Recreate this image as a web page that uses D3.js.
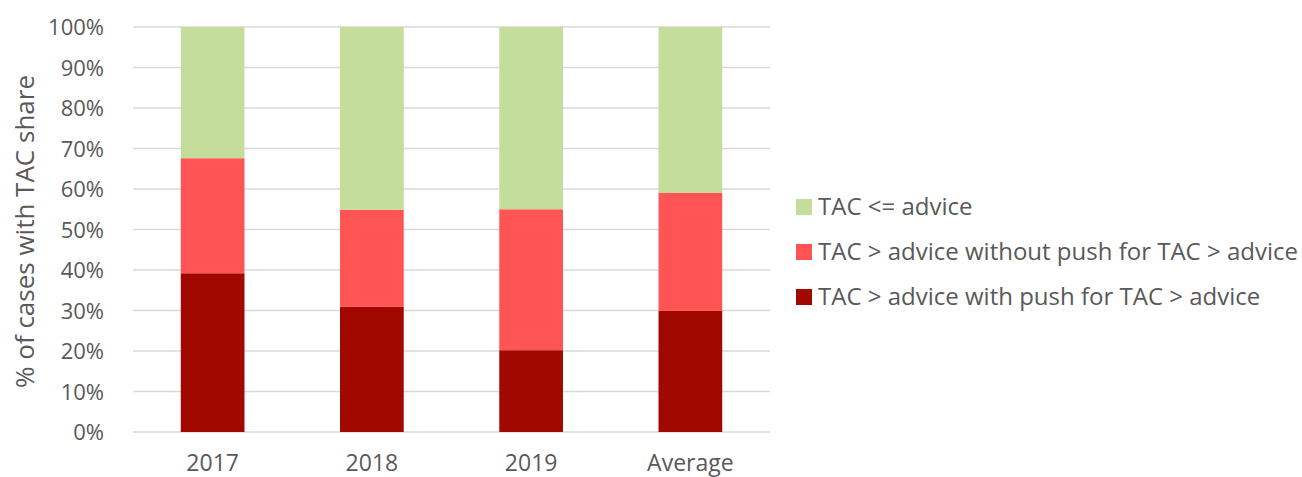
<!DOCTYPE html>
<html><head><meta charset="utf-8">
<script src="https://cdn.jsdelivr.net/npm/d3@7"></script>
<style>body{margin:0;background:#fff}svg{display:block}text{font-family:"Open Sans",sans-serif;fill:#595959}</style>
</head><body><svg id="c" width="1302" height="477"></svg>
<script>
const categories = ["2017","2018","2019","Average"];
const seriesNames = ["TAC > advice with push for TAC > advice","TAC > advice without push for TAC > advice","TAC <= advice"];
const withPush = [39.2, 30.9, 20.2, 29.9];
const withoutPush = [28.4, 24.0, 34.8, 29.2];
const lessEq = [32.4, 45.1, 45.0, 40.9];
const yTicks = [0,10,20,30,40,50,60,70,80,90,100];
const colors = ["#A00800","#FF5454","#C4DD9A"];

const svg = d3.select("#c");
const m = {l:133, r:770, t:27, b:432};
const x = d3.scaleBand().domain(categories).range([m.l, m.r]).paddingInner(0.6).paddingOuter(0.3);
const y = d3.scaleLinear().domain([0,100]).range([m.b, m.t]);

const rows = categories.map((c,i)=>({cat:c, a:withPush[i], b:withoutPush[i], c:lessEq[i]}));
const stack = d3.stack().keys(["a","b","c"])(rows);

svg.append("g").selectAll("line").data(yTicks).join("line")
  .attr("x1", m.l).attr("x2", m.r).attr("y1", d=>y(d)).attr("y2", d=>y(d))
  .attr("stroke", "#d9d9d9").attr("stroke-width", 1.5);

svg.append("g").selectAll("g").data(stack).join("g").attr("fill",(d,i)=>colors[i])
  .selectAll("rect").data(d=>d).join("rect")
  .attr("x", d=>x(d.data.cat)).attr("width", x.bandwidth())
  .attr("y", d=>y(d[1])).attr("height", d=>y(d[0])-y(d[1]));

const ya = svg.append("g").attr("transform",`translate(${m.l-26},0)`)
  .call(d3.axisLeft(y).tickValues(yTicks).tickFormat(d=>d+"%").tickSize(0));
ya.select(".domain").remove();
ya.selectAll("text").attr("font-size", 22).attr("dy","0.35em").style("font-family","'Open Sans',sans-serif").attr("fill","#595959");

const xa = svg.append("g").attr("transform",`translate(0,${m.b})`)
  .call(d3.axisBottom(x).tickSize(0));
xa.select(".domain").remove();
xa.selectAll("text").attr("font-size", 23).attr("y", 39).attr("dy","0").style("font-family","'Open Sans',sans-serif").attr("fill","#595959");

svg.append("text").attr("transform",`translate(34,${(m.t+m.b)/2+2}) rotate(-90)`)
  .attr("text-anchor","middle").attr("font-size",26).text("% of cases with TAC share");

const legendOrder = [2,1,0];
const lg = svg.append("g").selectAll("g").data(legendOrder).join("g")
  .attr("transform",(d,i)=>`translate(796,${207+i*45})`);
lg.append("rect").attr("x",0).attr("y",-8).attr("width",16).attr("height",16).attr("fill",d=>colors[d]);
lg.append("text").attr("x",22).attr("dy","0.35em").attr("font-size",24).text(d=>seriesNames[d]);
</script></body></html>
